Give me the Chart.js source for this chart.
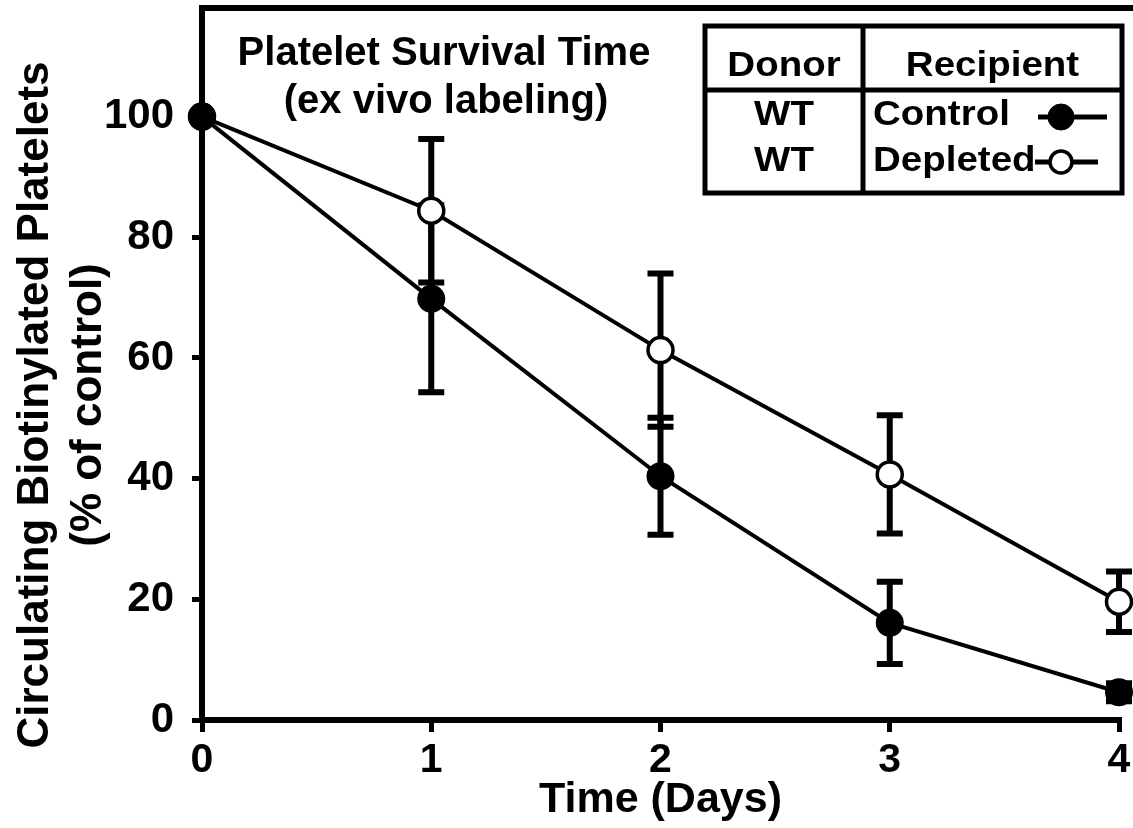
<!DOCTYPE html>
<html>
<head>
<meta charset="utf-8">
<script src="https://cdn.jsdelivr.net/npm/chart.js@4.4.1/dist/chart.umd.min.js"></script>
<style>
  html, body { margin: 0; padding: 0; background: #fff; }
  #wrap { width: 1133px; height: 828px; }
</style>
</head>
<body>
<div id="wrap"><canvas id="chart" width="1133" height="828"></canvas></div>
<script>
// values
const days = [0, 1, 2, 3, 4];
const controlMean = [100, 69.8, 40.4, 16.1, 4.6];
const controlErr = [0, 15.5, 9.7, 6.8, 1.5];
const depletedMean = [100, 84.4, 61.3, 40.7, 19.6];
const depletedErr = [0, 11.9, 12.7, 9.8, 5.0];
const yTicks = [0, 20, 40, 60, 80, 100];
const xTicks = [0, 1, 2, 3, 4];
const titleLines = ['Platelet Survival Time', '(ex vivo labeling)'];
const yTitleLines = ['Circulating Biotinylated Platelets', '(% of control)'];
const tableHead = ['Donor', 'Recipient'];
const donors = ['WT', 'WT'];
const recipients = ['Control', 'Depleted'];

const FONT = '"Liberation Sans", Arial, sans-serif';
const errs = [controlErr, depletedErr];

function pts(ys) {
  return days.map((d, i) => ({x: d, y: ys[i]}));
}

// error bars, drawn under the markers
const errorBars = {
  id: 'errorBars',
  beforeDatasetsDraw(chart) {
    const ctx = chart.ctx, xs = chart.scales.x, ys = chart.scales.y;
    ctx.save();
    ctx.strokeStyle = '#000';
    ctx.lineWidth = 6;
    chart.data.datasets.forEach((ds, i) => {
      ds.data.forEach((p, j) => {
        const e = errs[i][j];
        if (!e) return;
        const x = xs.getPixelForValue(p.x);
        const y1 = ys.getPixelForValue(p.y + e);
        const y2 = ys.getPixelForValue(p.y - e);
        ctx.beginPath();
        ctx.moveTo(x, y1); ctx.lineTo(x, y2);
        ctx.moveTo(x - 13, y1); ctx.lineTo(x + 13, y1);
        ctx.moveTo(x - 13, y2); ctx.lineTo(x + 13, y2);
        ctx.stroke();
      });
    });
    // top frame line
    const a = chart.chartArea;
    ctx.beginPath();
    ctx.moveTo(a.left - 3, a.top);
    ctx.lineTo(chart.width, a.top);
    ctx.stroke();
    ctx.restore();
  }
};

// inner title, y title and the donor/recipient table
const extras = {
  id: 'extras',
  afterDraw(chart) {
    const ctx = chart.ctx, a = chart.chartArea;
    ctx.save();
    ctx.fillStyle = '#000';
    ctx.textAlign = 'center';
    ctx.textBaseline = 'alphabetic';
    ctx.font = 'bold 40px ' + FONT;
    ctx.fillText(titleLines[0], 444, 65);
    ctx.fillText(titleLines[1], 446, 113);

    // y axis title
    ctx.save();
    ctx.font = 'bold 44px ' + FONT;
    ctx.translate(48, 405);
    ctx.rotate(-Math.PI / 2);
    ctx.fillText(yTitleLines[0], 0, 0);
    ctx.restore();
    ctx.save();
    ctx.font = 'bold 44px ' + FONT;
    ctx.translate(101, 405);
    ctx.rotate(-Math.PI / 2);
    ctx.fillText(yTitleLines[1], 0, 0);
    ctx.restore();

    // table
    const L = a.right - 414, R = a.right + 3, T = a.top + 18, B = a.top + 185;
    const S = a.right - 256, H = a.top + 82;
    ctx.fillStyle = '#fff';
    ctx.fillRect(L, T, R - L, B - T);
    ctx.strokeStyle = '#000';
    ctx.lineWidth = 5;
    ctx.strokeRect(L, T, R - L, B - T);
    ctx.beginPath();
    ctx.moveTo(L, H); ctx.lineTo(R, H);
    ctx.moveTo(S, T); ctx.lineTo(S, B);
    ctx.stroke();

    ctx.fillStyle = '#000';
    ctx.font = 'bold 35px ' + FONT;
    const text = (s, x, y, align) => {
      ctx.save();
      ctx.translate(x, y);
      ctx.scale(1.1, 1);
      ctx.textAlign = align;
      ctx.fillText(s, 0, 0);
      ctx.restore();
    };
    text(tableHead[0], (L + S) / 2, T + 50, 'center');
    text(tableHead[1], (S + R) / 2, T + 50, 'center');
    const rows = [T + 99, T + 145];
    donors.forEach((d, i) => text(d, (L + S) / 2, rows[i], 'center'));
    recipients.forEach((r, i) => text(r, S + 10, rows[i], 'left'));

    // legend samples
    const mk = [{x1: 1038, x2: 1107, y: rows[0] - 8, fill: '#000'},
                {x1: 1035, x2: 1098, y: rows[1] - 9, fill: '#fff'}];
    mk.forEach(m => {
      ctx.lineWidth = 5;
      ctx.beginPath();
      ctx.moveTo(m.x1, m.y); ctx.lineTo(m.x2, m.y);
      ctx.stroke();
      ctx.beginPath();
      ctx.arc(1061, m.y, m.fill === '#000' ? 13 : 11, 0, Math.PI * 2);
      ctx.fillStyle = m.fill;
      ctx.fill();
      ctx.lineWidth = m.fill === '#000' ? 1 : 3.5;
      ctx.stroke();
    });
    ctx.restore();
  }
};

const data = {
  datasets: [{
    label: recipients[0],
    data: pts(controlMean),
    borderColor: '#000',
    borderWidth: 4,
    pointRadius: 13,
    pointBorderWidth: 2,
    pointBackgroundColor: '#000',
    pointBorderColor: '#000',
    showLine: true,
    clip: false
  }, {
    label: recipients[1],
    data: pts(depletedMean),
    borderColor: '#000',
    borderWidth: 4,
    pointRadius: 12.5,
    pointBorderWidth: 3.5,
    pointBackgroundColor: '#fff',
    pointBorderColor: '#000',
    showLine: true,
    clip: false
  }]
};

const config = {
  type: 'scatter',
  data,
  plugins: [errorBars, extras],
  options: {
    responsive: false,
    animation: false,
    layout: {
      autoPadding: false,
      padding: {top: 8, right: 14, bottom: 0, left: 0}
    },
    plugins: {
      legend: {display: false},
      tooltip: {enabled: false}
    },
    scales: {
      x: {
        type: 'linear',
        min: 0,
        max: 4,
        afterBuildTicks: s => { s.ticks = xTicks.map(v => ({value: v})); },
        afterFit: s => { s.height = 108; s.paddingLeft = 0; s.paddingRight = 0; },
        grid: {display: true, drawOnChartArea: false, color: '#000', lineWidth: 5, tickLength: 12},
        border: {display: true, color: '#000', width: 6},
        ticks: {color: '#000', padding: 4, font: {family: FONT, size: 41, weight: 'bold'}},
        title: {
          display: true,
          text: 'Time (Days)',
          color: '#000',
          padding: {top: 0, bottom: 2},
          font: {family: FONT, size: 43, weight: 'bold'}
        }
      },
      y: {
        min: 0,
        max: 118,
        afterBuildTicks: s => { s.ticks = yTicks.map(v => ({value: v})); },
        afterFit: s => { s.width = 202; s.paddingTop = 0; s.paddingBottom = 0; },
        grid: {display: true, drawOnChartArea: false, color: '#000', lineWidth: 5, tickLength: 10},
        border: {display: true, color: '#000', width: 6},
        ticks: {color: '#000', padding: 18, font: {family: FONT, size: 42, weight: 'bold'}}
      }
    }
  }
};

var myChart = new Chart(document.getElementById('chart'), config);
</script>
</body>
</html>
